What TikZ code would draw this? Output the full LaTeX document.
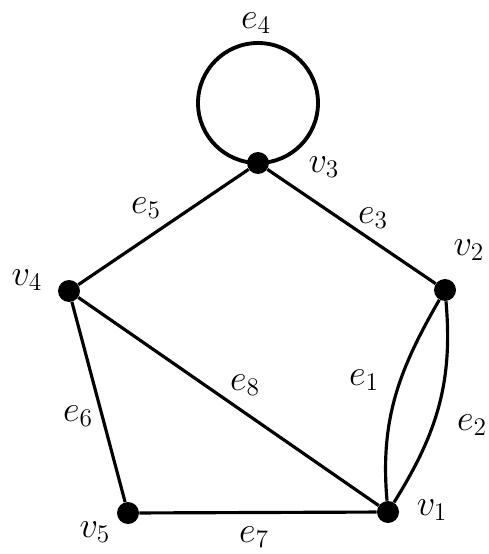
\documentclass[tikz,border=0pt]{standalone}
\usepackage{amsmath}
\usepackage{tikz}
\usetikzlibrary{positioning}

\begin{document}
\begin{tikzpicture}[
  x=0.02cm, y=-0.02cm,
  vertex/.style={circle,fill=black,inner sep=0pt,minimum size=0.44cm},
  lbl/.style={font=\fontsize{21}{24}\selectfont,inner sep=1pt},
  edge/.style={line width=1.8pt}
]
\useasboundingbox (0,0) rectangle (489,554);
\node[vertex] (v3) at (258,163) {};
\node[vertex] (v2) at (445,290) {};
\node[vertex] (v4) at (69,291) {};
\node[vertex] (v5) at (128,513) {};
\node[vertex] (v1) at (388,512) {};
\draw[edge,line width=2.2pt] (v3.center) arc[start angle=90,delta angle=360,radius=60];
\draw[edge] (v3)--(v4);
\draw[edge] (v3)--(v2);
\draw[edge] (v4)--(v5);
\draw[edge] (v4)--(v1);
\draw[edge] (v5)--(v1);
\draw[edge] (v1) to[out=95,in=240] (v2);
\draw[edge] (v1) to[out=58,in=-85] (v2);
\node[lbl] at (256,23) {$e_4$};
\node[lbl] at (324,167) {$v_3$};
\node[lbl] at (146,208) {$e_5$};
\node[lbl] at (373,218) {$e_3$};
\node[lbl] at (469,250) {$v_2$};
\node[lbl] at (27,280) {$v_4$};
\node[lbl] at (364,380) {$e_1$};
\node[lbl] at (245,385) {$e_8$};
\node[lbl] at (78,416) {$e_6$};
\node[lbl] at (472,425) {$e_2$};
\node[lbl] at (432,510) {$v_1$};
\node[lbl] at (95,532) {$v_5$};
\node[lbl] at (254,537) {$e_7$};
\end{tikzpicture}
\end{document}
